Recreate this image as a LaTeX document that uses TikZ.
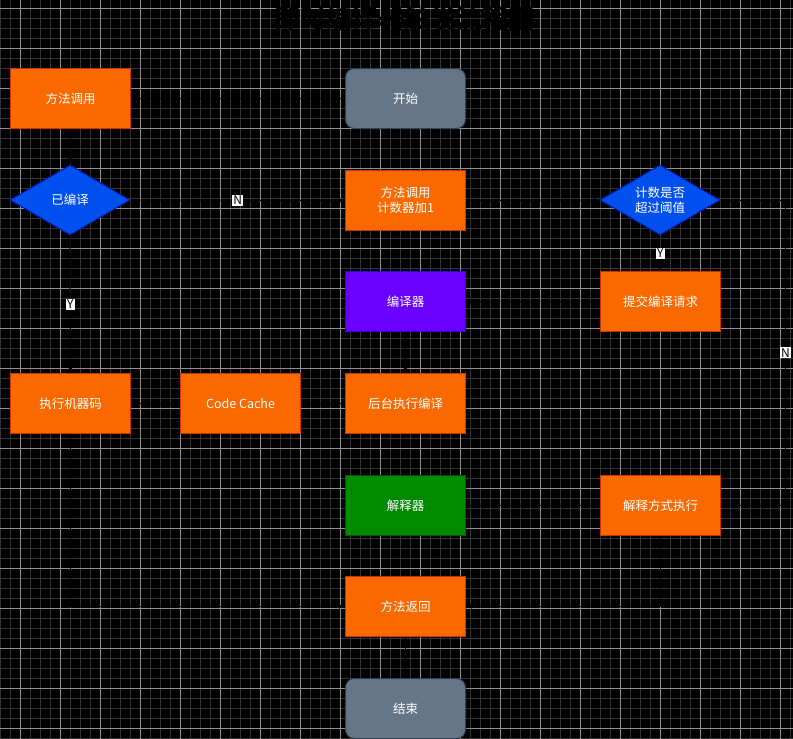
\documentclass[tikz,border=0pt]{standalone}
\usepackage{fontspec}
\setmainfont{Noto Sans CJK SC}
\usepackage{tikz}
\usetikzlibrary{shapes.geometric}
\usetikzlibrary{positioning}
\usepackage{color}

\definecolor{boxorange}{HTML}{FA6800}
\definecolor{boxorangeline}{HTML}{C73500}
\definecolor{boxblue}{HTML}{0050EF}
\definecolor{boxblueline}{HTML}{001DBC}
\definecolor{boxviolet}{HTML}{6A00FF}
\definecolor{boxvioletline}{HTML}{3700CC}
\definecolor{boxgreen}{HTML}{008A00}
\definecolor{boxgreenline}{HTML}{005700}
\definecolor{boxslate}{HTML}{647687}
\definecolor{boxslateline}{HTML}{314354}
\definecolor{gridminor}{HTML}{333333}
\definecolor{gridmajor}{HTML}{8F8F8F}

\tikzset{
    proc/.style={anchor=north west,fill=boxorange,draw=boxorangeline,line width=1pt,
        minimum width=120pt,minimum height=60pt,inner sep=0pt,align=center,
        text=white,font=\fontsize{12.5}{15}\selectfont},
    term/.style={proc,fill=boxslate,draw=boxslateline,rounded corners=9pt},
    decide/.style={diamond,shape aspect=1.7,fill=boxblue,draw=boxblueline,line width=1pt,
        minimum width=120pt,minimum height=70pt,inner sep=0pt,align=center,
        text=white,font=\fontsize{12.5}{15}\selectfont},
    conn/.style={draw=black,line width=1pt,-latex},
    lbl/.style={fill=white,text=black,inner sep=1.2pt,font=\fontsize{12}{13}\selectfont}
}

\begin{document}
\begin{tikzpicture}[x=1pt,y=-1pt]
    \useasboundingbox (0,0) rectangle (793,739);
    \fill[black] (0,0) rectangle (793,739);

    % grid
    \foreach \i in {0,...,79} {
        \draw[gridminor,line width=0.6pt] (0.7+10*\i,0) -- (0.7+10*\i,739);
    }
    \foreach \i in {0,...,74} {
        \draw[gridminor,line width=0.6pt] (0,-1.7+10*\i) -- (793,-1.7+10*\i);
    }
    \foreach \i in {0,...,19} {
        \draw[gridmajor,line width=0.6pt] (20.7+40*\i,0) -- (20.7+40*\i,739);
    }
    \foreach \i in {0,...,18} {
        \draw[gridmajor,line width=0.6pt] (0,8.3+40*\i) -- (793,8.3+40*\i);
    }

    % title
    \node[text=black,font=\bfseries\fontsize{26}{30}\selectfont] (title) at (404,19) {即时编译器触发流程图};

    % left column
    \node[proc] (call) at (10,68) {方法调用};
    \node[decide] (compiled) at (70,200) {已编译};
    \node[proc] (machine) at (10,373) {执行机器码};
    \node[proc] (cache) at (180,373) {Code Cache};

    % middle column
    \node[term] (start) at (345,68) {开始};
    \node[proc] (counter) at (345,170) {方法调用\\计数器加1};
    \node[proc,fill=boxviolet,draw=boxvioletline] (compiler) at (345,271) {编译器};
    \node[proc] (backend) at (345,373) {后台执行编译};
    \node[proc,fill=boxgreen,draw=boxgreenline] (interp) at (345,475) {解释器};
    \node[proc] (return) at (345,576) {方法返回};
    \node[term] (stop) at (345,678) {结束};

    % right column
    \node[decide] (threshold) at (660,200) {计数是否\\超过阈值};
    \node[proc] (submit) at (600,271) {提交编译请求};
    \node[proc] (interpmode) at (600,475) {解释方式执行};

    % connectors
    \draw[conn] (start.west) -- (call.east);
    \draw[conn] (call.south) -- (compiled.north);
    \draw[conn] (compiled.east) -- node[lbl] {N} (counter.west);
    \draw[conn] (compiled.south) -- node[lbl] {Y} (machine.north);
    \draw[conn] (counter.east) -- (threshold.west);
    \draw[conn] (threshold.south) -- node[lbl] {Y} (submit.north);
    \draw[conn] (threshold.east) -- ++(65,0) |- node[lbl,pos=0.25] {N} (interpmode.east);
    \draw[conn] (submit.west) -- (compiler.east);
    \draw[conn] (compiler.south) -- (backend.north);
    \draw[conn] (backend.west) -- (cache.east);
    \draw[conn] (cache.west) -- (machine.east);
    \draw[conn] (machine.south) |- (return.west);
    \draw[conn] (interp.east) -- (interpmode.west);
    \draw[conn] (interpmode.south) |- (return.east);
    \draw[conn] (return.south) -- (stop.north);
\end{tikzpicture}
\end{document}
